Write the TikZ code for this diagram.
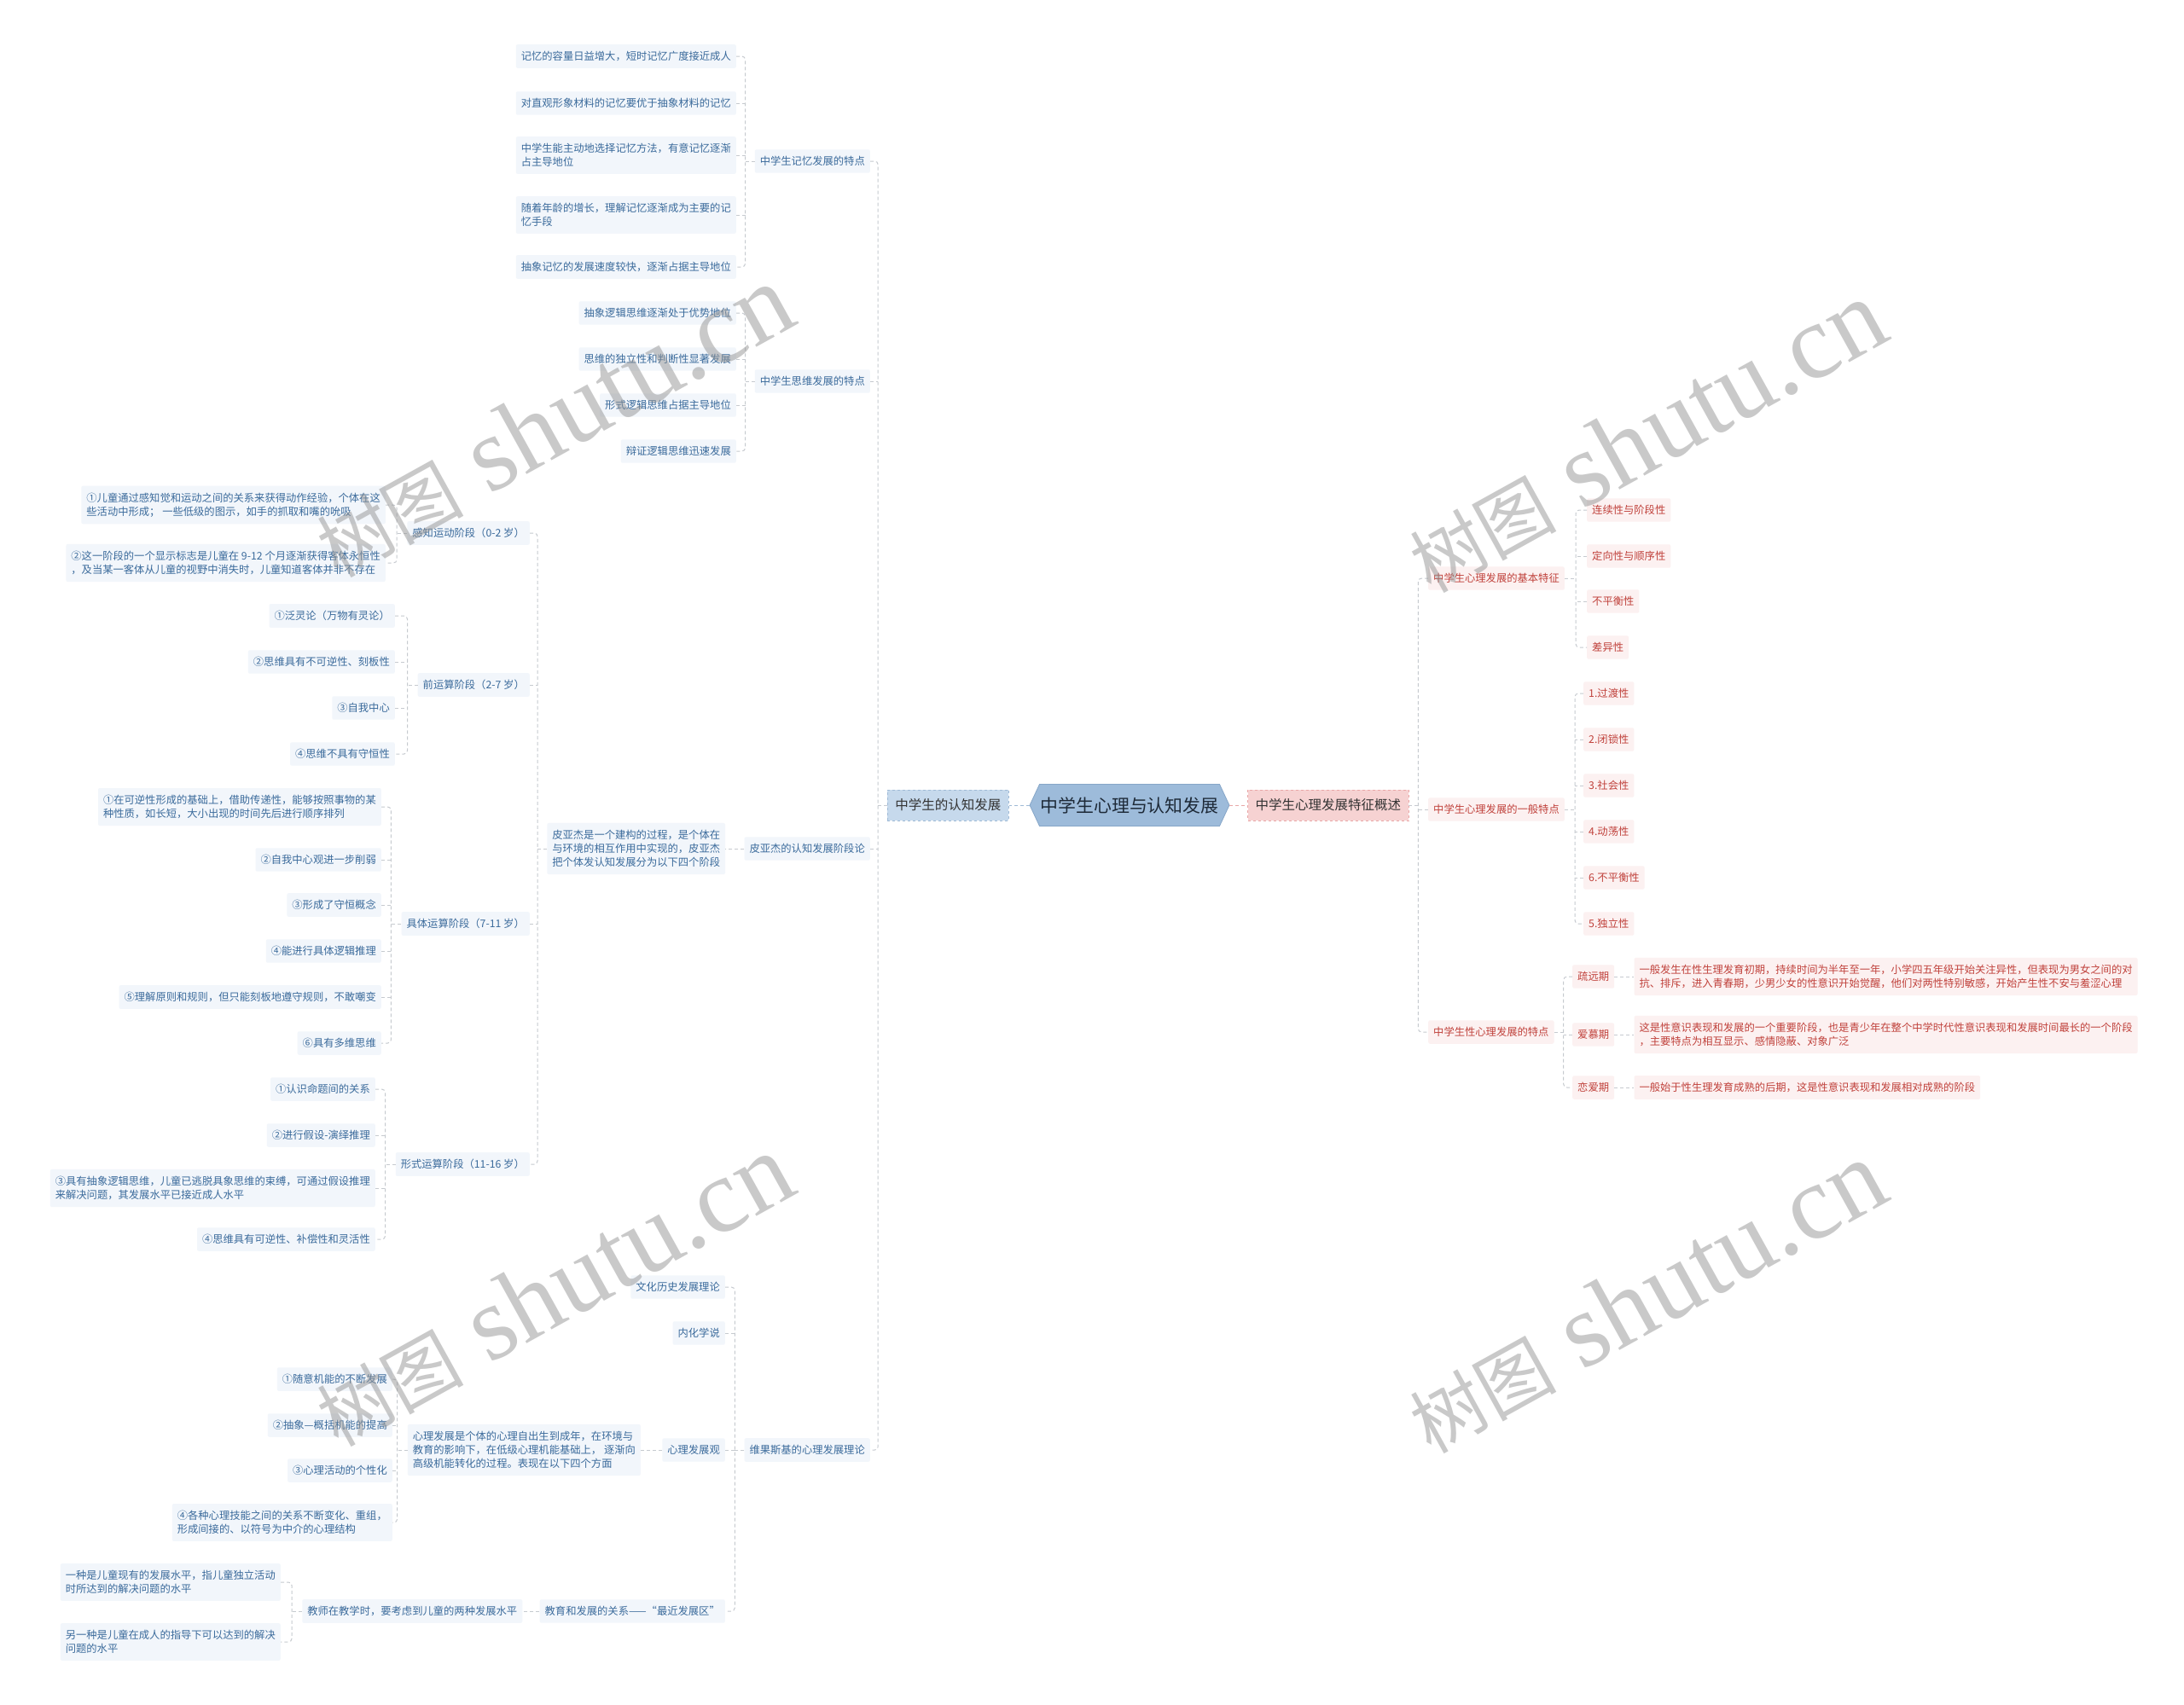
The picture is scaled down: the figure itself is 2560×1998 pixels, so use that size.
\documentclass[tikz,border=0pt]{standalone}
\usepackage{fontspec}
\newfontfamily\cjkfont{Noto Sans CJK SC}
\newfontfamily\markfont{Liberation Serif}
\usepackage{xcolor}
\usetikzlibrary{positioning,shapes.symbols}

\definecolor{btext}{HTML}{3A6A9B}
\definecolor{bfill}{HTML}{F2F6FB}
\definecolor{bmainfill}{HTML}{C6D9EC}
\definecolor{bmainline}{HTML}{9FBAD6}
\definecolor{rootfill}{HTML}{9DBBDA}
\definecolor{rootline}{HTML}{86A6C8}
\definecolor{roottext}{HTML}{1E2A38}
\definecolor{rtext}{HTML}{C0413B}
\definecolor{rfill}{HTML}{FCF1F1}
\definecolor{rmainfill}{HTML}{F6D2D2}
\definecolor{rmainline}{HTML}{E9A7A7}
\definecolor{linkgrey}{HTML}{C6CACF}

\begin{document}
\begin{tikzpicture}[x=1pt, y=-1pt, every node/.style={inner sep=0pt},
    bleaf/.style={anchor=east, fill=bfill, text=btext, rounded corners=2pt, inner xsep=6pt, inner ysep=8pt,
        align=left, font=\cjkfont\fontsize{12.3}{16.3}\selectfont},
    rleaf/.style={bleaf, anchor=west, fill=rfill, text=rtext},
    root/.style={signal, signal to=east and west, signal pointer angle=130, fill=rootfill, draw=rootline,
        line width=0.8pt, text=roottext, minimum height=49pt, inner xsep=1pt, font=\cjkfont\fontsize{20.9}{24}\selectfont},
    bmain/.style={fill=bmainfill, draw=bmainline, dashed, text=black!80, inner xsep=9pt, inner ysep=11pt,
        font=\cjkfont\fontsize{15.5}{18}\selectfont},
    rmain/.style={bmain, fill=rmainfill, draw=rmainline},
    link/.style={draw=linkgrey, dash pattern=on 4pt off 3pt, line width=1pt, rounded corners=4pt},
    stamp/.style={rotate=29, text=black!42, text opacity=0.5}]
    \path[use as bounding box, fill=white] (0,0) rectangle (2560,1998);

    % centre and main branches
    \node[root] (root) at (1324,944) {中学生心理与认知发展};
    \node[bmain, left=24pt of root] (cog) {中学生的认知发展};
    \node[rmain, right=21pt of root] (overview) {中学生心理发展特征概述};

    % left: second level
    \node[bleaf] (memory) at (1020,189) {中学生记忆发展的特点};
    \node[bleaf] (thinking) at (1020,447) {中学生思维发展的特点};
    \node[bleaf] (piaget) at (1020,995) {皮亚杰的认知发展阶段论};
    \node[bleaf] (vygotsky) at (1020,1700) {维果斯基的心理发展理论};

    % memory
    \node[bleaf] (mem1) at (863,66) {记忆的容量日益增大，短时记忆广度接近成人};
    \node[bleaf] (mem2) at (863,121) {对直观形象材料的记忆要优于抽象材料的记忆};
    \node[bleaf] (mem3) at (863,182) {中学生能主动地选择记忆方法，有意记忆逐渐\\占主导地位};
    \node[bleaf] (mem4) at (863,252) {随着年龄的增长，理解记忆逐渐成为主要的记\\忆手段};
    \node[bleaf] (mem5) at (863,313) {抽象记忆的发展速度较快，逐渐占据主导地位};

    % thinking
    \node[bleaf] (th1) at (863,367) {抽象逻辑思维逐渐处于优势地位};
    \node[bleaf] (th2) at (863,421) {思维的独立性和判断性显著发展};
    \node[bleaf] (th3) at (863,475) {形式逻辑思维占据主导地位};
    \node[bleaf] (th4) at (863,529) {辩证逻辑思维迅速发展};

    % piaget
    \node[bleaf, left=22pt of piaget] (piagetdesc) {皮亚杰是一个建构的过程，是个体在\\与环境的相互作用中实现的，皮亚杰\\把个体发认知发展分为以下四个阶段};
    \node[bleaf] (sensory) at (621,625) {感知运动阶段（0-2 岁）};
    \node[bleaf] (preop) at (621,803) {前运算阶段（2-7 岁）};
    \node[bleaf] (concrete) at (621,1083) {具体运算阶段（7-11 岁）};
    \node[bleaf] (formal) at (621,1365) {形式运算阶段（11-16 岁）};

    \node[bleaf] (sen1) at (452,592) {①儿童通过感知觉和运动之间的关系来获得动作经验，个体在这\\些活动中形成； 一些低级的图示，如手的抓取和嘴的吮吸};
    \node[bleaf] (sen2) at (452,660) {②这一阶段的一个显示标志是儿童在 9-12 个月逐渐获得客体永恒性\\，及当某一客体从儿童的视野中消失时，儿童知道客体并非不存在};

    \node[bleaf] (pre1) at (463,722) {①泛灵论（万物有灵论）};
    \node[bleaf] (pre2) at (463,776) {②思维具有不可逆性、刻板性};
    \node[bleaf] (pre3) at (463,830) {③自我中心};
    \node[bleaf] (pre4) at (463,884) {④思维不具有守恒性};

    \node[bleaf] (con1) at (447,946) {①在可逆性形成的基础上，借助传递性，能够按照事物的某\\种性质，如长短，大小出现的时间先后进行顺序排列};
    \node[bleaf] (con2) at (447,1008) {②自我中心观进一步削弱};
    \node[bleaf] (con3) at (447,1061) {③形成了守恒概念};
    \node[bleaf] (con4) at (447,1115) {④能进行具体逻辑推理};
    \node[bleaf] (con5) at (447,1169) {⑤理解原则和规则，但只能刻板地遵守规则，不敢嘲变};
    \node[bleaf] (con6) at (447,1223) {⑥具有多维思维};

    \node[bleaf] (for1) at (440,1277) {①认识命题间的关系};
    \node[bleaf] (for2) at (440,1331) {②进行假设-演绎推理};
    \node[bleaf] (for3) at (440,1393) {③具有抽象逻辑思维，儿童已逃脱具象思维的束缚，可通过假设推理\\来解决问题，其发展水平已接近成人水平};
    \node[bleaf] (for4) at (440,1453) {④思维具有可逆性、补偿性和灵活性};

    % vygotsky
    \node[bleaf] (cult) at (850,1509) {文化历史发展理论};
    \node[bleaf] (intern) at (850,1563) {内化学说};
    \node[bleaf] (devview) at (850,1700) {心理发展观};
    \node[bleaf] (zpd) at (850,1889) {教育和发展的关系——“最近发展区”};
    \node[bleaf, left=25pt of devview] (devdesc) {心理发展是个体的心理自出生到成年，在环境与\\教育的影响下，在低级心理机能基础上， 逐渐向\\高级机能转化的过程。表现在以下四个方面};
    \node[bleaf] (dv1) at (460,1617) {①随意机能的不断发展};
    \node[bleaf] (dv2) at (460,1671) {②抽象—概括机能的提高};
    \node[bleaf] (dv3) at (460,1724) {③心理活动的个性化};
    \node[bleaf] (dv4) at (460,1785) {④各种心理技能之间的关系不断变化、重组，\\形成间接的、以符号为中介的心理结构};
    \node[bleaf, left=20pt of zpd] (teacher) {教师在教学时，要考虑到儿童的两种发展水平};
    \node[bleaf] (lv1) at (329,1855) {一种是儿童现有的发展水平，指儿童独立活动\\时所达到的解决问题的水平};
    \node[bleaf] (lv2) at (329,1925) {另一种是儿童在成人的指导下可以达到的解决\\问题的水平};

    % right side
    \node[rleaf] (basic) at (1674,678) {中学生心理发展的基本特征};
    \node[rleaf] (general) at (1674,949) {中学生心理发展的一般特点};
    \node[rleaf] (sexpsy) at (1674,1210) {中学生性心理发展的特点};

    \node[rleaf] (b1) at (1860,598) {连续性与阶段性};
    \node[rleaf] (b2) at (1860,652) {定向性与顺序性};
    \node[rleaf] (b3) at (1860,705) {不平衡性};
    \node[rleaf] (b4) at (1860,759) {差异性};

    \node[rleaf] (g1) at (1856,813) {1.过渡性};
    \node[rleaf] (g2) at (1856,867) {2.闭锁性};
    \node[rleaf] (g3) at (1856,921) {3.社会性};
    \node[rleaf] (g4) at (1856,975) {4.动荡性};
    \node[rleaf] (g5) at (1856,1029) {6.不平衡性};
    \node[rleaf] (g6) at (1856,1083) {5.独立性};

    \node[rleaf] (s1) at (1843,1145) {疏远期};
    \node[rleaf] (s2) at (1843,1213) {爱慕期};
    \node[rleaf] (s3) at (1843,1275) {恋爱期};
    \node[rleaf, right=23pt of s1] (s1desc) {一般发生在性生理发育初期，持续时间为半年至一年，小学四五年级开始关注异性，但表现为男女之间的对\\抗、排斥，进入青春期，少男少女的性意识开始觉醒，他们对两性特别敏感，开始产生性不安与羞涩心理};
    \node[rleaf, right=23pt of s2] (s2desc) {这是性意识表现和发展的一个重要阶段，也是青少年在整个中学时代性意识表现和发展时间最长的一个阶段\\，主要特点为相互显示、感情隐蔽、对象广泛};
    \node[rleaf, right=23pt of s3] (s3desc) {一般始于性生理发育成熟的后期，这是性意识表现和发展相对成熟的阶段};

    % connectors
    \draw[link, draw=bmainline] (root.west) -- (cog.east);
    \draw[link, draw=rmainline] (root.east) -- (overview.west);

    \coordinate (cogT) at ([xshift=-11pt]cog.west);
    \draw[link] (memory.east) -| (cogT) |- (vygotsky.east);
    \foreach \n in {thinking,piaget} \draw[link] (\n.east) -- (\n.east -| cogT);
    \draw[link] (cog.west) -- (cogT);

    \coordinate (memT) at ([xshift=-11pt]memory.west);
    \draw[link] (mem1.east) -| (memT) |- (mem5.east);
    \foreach \n in {2,3,4} \draw[link] (mem\n.east) -- (mem\n.east -| memT);
    \draw[link] (memory.west) -- (memT);

    \coordinate (thT) at ([xshift=-11pt]thinking.west);
    \draw[link] (th1.east) -| (thT) |- (th4.east);
    \foreach \n in {2,3} \draw[link] (th\n.east) -- (th\n.east -| thT);
    \draw[link] (thinking.west) -- (thT);

    \draw[link] (piaget.west) -- (piagetdesc.east);
    \coordinate (stT) at ([xshift=-11pt]piagetdesc.west);
    \draw[link] (sensory.east) -| (stT) |- (formal.east);
    \foreach \n in {preop,concrete} \draw[link] (\n.east) -- (\n.east -| stT);
    \draw[link] (piagetdesc.west) -- (stT);

    \coordinate (senT) at ([xshift=-12pt]sensory.west);
    \draw[link] (sen1.east) -| (senT) |- (sen2.east);
    \draw[link] (sensory.west) -- (senT);

    \coordinate (preT) at ([xshift=-12pt]preop.west);
    \draw[link] (pre1.east) -| (preT) |- (pre4.east);
    \foreach \n in {2,3} \draw[link] (pre\n.east) -- (pre\n.east -| preT);
    \draw[link] (preop.west) -- (preT);

    \coordinate (conT) at ([xshift=-12pt]concrete.west);
    \draw[link] (con1.east) -| (conT) |- (con6.east);
    \foreach \n in {2,...,5} \draw[link] (con\n.east) -- (con\n.east -| conT);
    \draw[link] (concrete.west) -- (conT);

    \coordinate (forT) at ([xshift=-12pt]formal.west);
    \draw[link] (for1.east) -| (forT) |- (for4.east);
    \foreach \n in {2,3} \draw[link] (for\n.east) -- (for\n.east -| forT);
    \draw[link] (formal.west) -- (forT);

    \coordinate (vyT) at ([xshift=-11pt]vygotsky.west);
    \draw[link] (cult.east) -| (vyT) |- (zpd.east);
    \foreach \n in {intern,devview} \draw[link] (\n.east) -- (\n.east -| vyT);
    \draw[link] (vygotsky.west) -- (vyT);

    \draw[link] (devview.west) -- (devdesc.east);
    \coordinate (dvT) at ([xshift=-12pt]devdesc.west);
    \draw[link] (dv1.east) -| (dvT) |- (dv4.east);
    \foreach \n in {2,3} \draw[link] (dv\n.east) -- (dv\n.east -| dvT);
    \draw[link] (devdesc.west) -- (dvT);

    \draw[link] (zpd.west) -- (teacher.east);
    \coordinate (teT) at ([xshift=-12pt]teacher.west);
    \draw[link] (lv1.east) -| (teT) |- (lv2.east);
    \draw[link] (teacher.west) -- (teT);

    \coordinate (ovT) at ([xshift=11pt]overview.east);
    \draw[link] (basic.west) -| (ovT) |- (sexpsy.west);
    \draw[link] (general.west) -- (general.west -| ovT);
    \draw[link] (overview.east) -- (ovT);

    \coordinate (baT) at ([xshift=13pt]basic.east);
    \draw[link] (b1.west) -| (baT) |- (b4.west);
    \foreach \n in {2,3} \draw[link] (b\n.west) -- (b\n.west -| baT);
    \draw[link] (basic.east) -- (baT);

    \coordinate (geT) at ([xshift=12pt]general.east);
    \draw[link] (g1.west) -| (geT) |- (g6.west);
    \foreach \n in {2,...,5} \draw[link] (g\n.west) -- (g\n.west -| geT);
    \draw[link] (general.east) -- (geT);

    \coordinate (sxT) at ([xshift=11pt]sexpsy.east);
    \draw[link] (s1.west) -| (sxT) |- (s3.west);
    \draw[link] (s2.west) -- (s2.west -| sxT);
    \draw[link] (sexpsy.east) -- (sxT);
    \foreach \n in {1,2,3} \draw[link] (s\n.east) -- (s\n desc.west);

    % watermarks
    \foreach \wx/\wy [count=\i] in {648/494, 1929/512, 648/1513, 1929/1521}
        \node[stamp] (wm\i) at (\wx,\wy) {{\cjkfont\fontsize{86}{86}\selectfont 树图}{\markfont\fontsize{124}{124}\selectfont\ shutu.cn}};
\end{tikzpicture}
\end{document}
